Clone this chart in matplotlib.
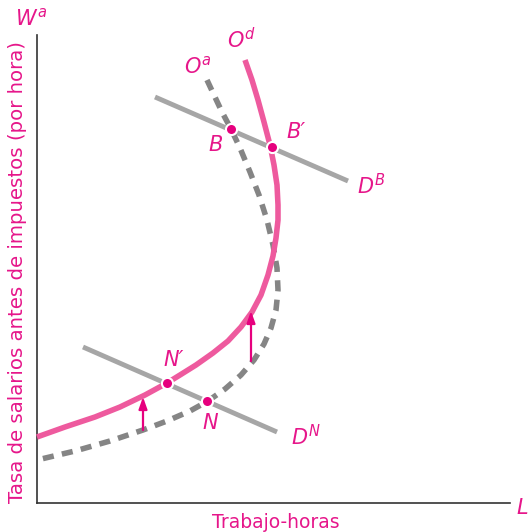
import matplotlib
matplotlib.use("Agg")
import matplotlib.pyplot as plt
import numpy as np

# Reference frame: x in screen units from the vertical axis, y in screen units above the horizontal axis
X0, Y0 = 37, 503

od_px = [(245,60),(252,80),(258,100),(264,122),(270,145),(274,165),(277,185),(278,205),(278,220),(276,238),
         (273,256),(268,275),(261,295),(252,312),(241,327),(228,341),(213,353),(196,365),(180,375),(167,383),
         (145,395),(120,407),(95,417),(65,427),(37,437)]
oa_px = [(207,80),(214,95),(222,112),(231,129),(240,148),(250,172),(259,195),(267,220),(273,245),
         (277,268),(278,290),(276,310),(271,328),(264,344),(254,360),(241,375),(225,389),(208,401),
         (190,411),(167,421),(143,430),(110,441),(75,451),(37,460)]
db_px = [(155,97),(348,181)]
dn_px = [(83,347),(277,432)]
pts = {"B": (231,129), "B'": (272,147), "N": (207,401), "N'": (167,383)}
arrows_px = [((143,430),(143,397)), ((251,361),(251,311))]

def conv(p):
    return p[0]-X0, Y0-p[1]

pink_line = "#EE5A9E"
pink_text = "#E6168A"
gray_solid = "#A6A6A6"
gray_dash = "#858585"

fig = plt.figure(figsize=(5.29,5.32), dpi=100)
W, H = 529, 532
ax = fig.add_axes([X0/W, (H-Y0)/H, (510-X0)/W, (Y0-35)/H])
ax.set_xlim(0, 510-X0)
ax.set_ylim(0, Y0-35)
for s in ["top","right"]:
    ax.spines[s].set_visible(False)
for s in ["left","bottom"]:
    ax.spines[s].set_color("#333333")
    ax.spines[s].set_linewidth(1.2)
ax.set_xticks([]); ax.set_yticks([])

def xy(lst):
    a = np.array([conv(p) for p in lst], float)
    return a[:,0], a[:,1]

x, y = xy(db_px); ax.plot(x, y, color=gray_solid, lw=3.5, solid_capstyle="butt", zorder=2)
x, y = xy(dn_px); ax.plot(x, y, color=gray_solid, lw=3.5, solid_capstyle="butt", zorder=2)
x, y = xy(oa_px); ax.plot(x, y, color=gray_dash, lw=4, dashes=(2.0,1.5), zorder=3, clip_on=False)
x, y = xy(od_px); ax.plot(x, y, color=pink_line, lw=4, zorder=4, solid_capstyle="butt",
                          solid_joinstyle="round", clip_on=False)

for (a, b) in arrows_px:
    s = conv(a); e = conv(b)
    ax.annotate("", xy=e, xytext=s,
                arrowprops=dict(arrowstyle="-|>,head_length=0.7,head_width=0.25", color="#E6007E", lw=1.6,
                                shrinkA=0, shrinkB=0), zorder=5)

for k, p in pts.items():
    px, py = conv(p)
    ax.plot(px, py, "o", ms=8, mfc="#E6007E", mec="white", mew=1.5, zorder=6)

def lab(txt, p, **kw):
    px, py = conv(p)
    ax.text(px, py, txt, color=pink_text, fontsize=15, style="italic", ha="center", va="center",
            clip_on=False, **kw)

lab(r"$\mathit{W}^{a}$", (31,18))
lab(r"$O^{d}$", (242,40))
lab(r"$O^{a}$", (198,66))
lab("B", (216,145))
lab("B\u2032", (296,132))
lab(r"$D^{B}$", (371,186))
lab("N\u2032", (174,360))
lab("N", (210,423))
lab(r"$D^{N}$", (306,437))
lab("L", (522,508))

fig.text(276/W, 1-522/H, "Trabajo-horas", color=pink_text, fontsize=13.5, ha="center", va="center")
fig.text(18/W, 1-272/H, "Tasa de salarios antes de impuestos (por hora)", color=pink_text,
         fontsize=14.2, ha="center", va="center", rotation=90)

fig.savefig("out.png", dpi=100)
